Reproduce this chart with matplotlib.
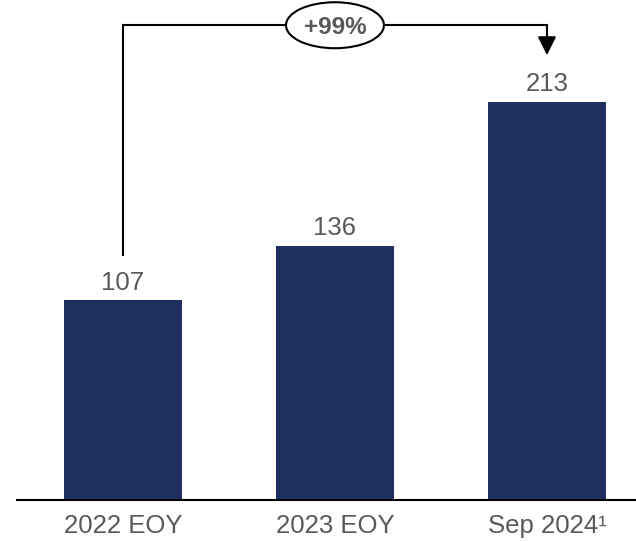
import matplotlib
matplotlib.use("Agg")
import matplotlib.pyplot as plt
from matplotlib.patches import Ellipse, FancyArrowPatch

plt.rcParams['font.family'] = ['Liberation Sans', 'DejaVu Sans']

categories = ["2022 EOY", "2023 EOY", "Sep 2024\u00b9"]
values = [107, 136, 213]
growth_label = "+99%"

BAR_COLOR = "#1F3060"
TEXT_COLOR = "#595959"

W, H = 636, 541
fig = plt.figure(figsize=(W / 100, H / 100), dpi=100)
ax = fig.add_axes([17 / W, (H - 500) / H, 1 - 17 / W, 500 / H])

x = list(range(len(values)))
ax.bar(x, values, width=0.557, color=BAR_COLOR, zorder=2)
ax.set_xlim(-0.5, 2.42)
ax.set_ylim(0, 267.5)

for xi, v in zip(x, values):
    ax.annotate(str(v), (xi, v), xytext=(0, 7.5), textcoords="offset points",
                ha="center", va="baseline", fontsize=18.5, color=TEXT_COLOR)

ax.set_xticks(x)
ax.set_xticklabels(categories, fontsize=18.5, color=TEXT_COLOR)
ax.tick_params(axis="x", length=0, pad=10)
ax.set_yticks([])
for s in ["top", "right", "left"]:
    ax.spines[s].set_visible(False)
ax.spines["bottom"].set_linewidth(1.5)
ax.spines["bottom"].set_color("black")

# growth bracket
top_y = 254
ax.plot([x[0], x[0], x[-1]], [values[0] + 24, top_y, top_y], color="black",
        lw=1.5, solid_joinstyle="miter", zorder=3)
arrow = FancyArrowPatch((x[-1], top_y), (x[-1], values[-1] + 25),
                        arrowstyle="-|>,head_length=7,head_width=3.5",
                        mutation_scale=1.6, color="black", lw=1.5,
                        shrinkA=0, shrinkB=0, zorder=3)
ax.add_patch(arrow)
ell = Ellipse((1, top_y), width=0.462, height=24.6, facecolor="white",
              edgecolor="black", lw=1.5, zorder=4, clip_on=False)
ax.add_patch(ell)
ax.text(1, top_y, growth_label, ha="center", va="center_baseline",
        fontsize=17.5, fontweight="bold", color=TEXT_COLOR, zorder=5)

fig.savefig("out.png", dpi=100)
